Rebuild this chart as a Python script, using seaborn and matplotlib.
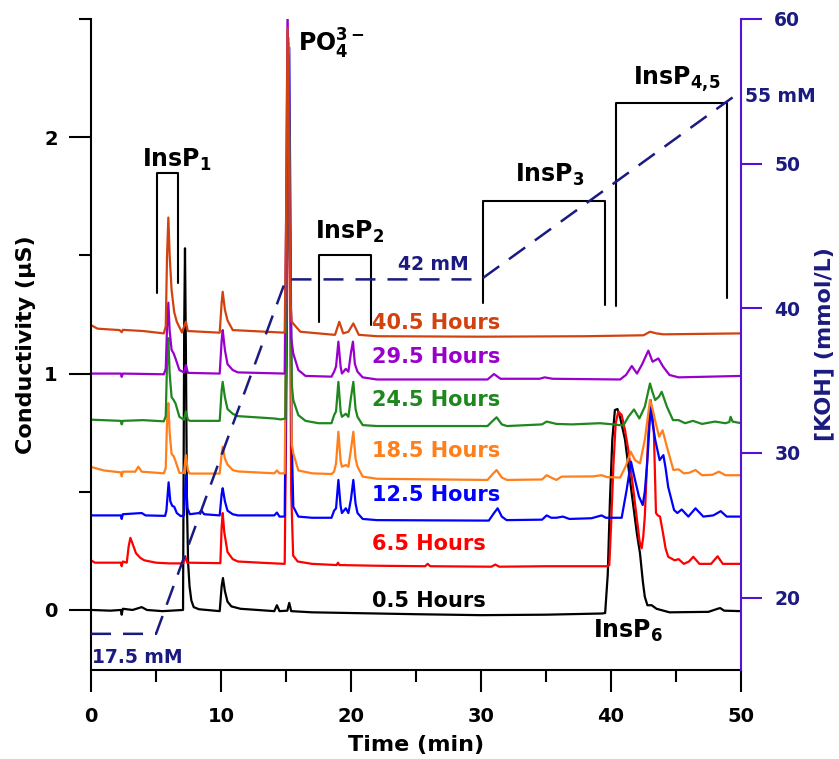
"""
Ion chromatograms of InsP6 hydrolysis over time
(conductivity traces stacked, KOH gradient on the right axis)
"""

import pandas as pd
import matplotlib
matplotlib.use('Agg')
import matplotlib.pyplot as plt
from matplotlib.ticker import FixedLocator
import seaborn as sns

# ---- data (time in min, conductivity in uS) ----
t_05h = [0, 1.5, 2.3, 2.36, 2.45, 3.2, 3.9, 4.3, 5.5, 7.08, 7.17, 7.23, 7.3, 7.38, 7.47,
         7.58, 7.72, 7.9, 8.3, 9.9, 10.05, 10.15, 10.3, 10.5, 10.8, 11.5, 14.1, 14.3, 14.5,
         15.1, 15.25, 15.4, 17, 20, 25, 30, 35, 39.3, 39.55, 39.75, 39.92, 40.1, 40.3, 40.5,
         40.7, 41.08, 41.6, 42.0, 42.23, 42.45, 42.6, 42.8, 43.13, 43.5, 44.5, 47.5, 48.2,
         48.4, 48.7, 50]
c_05h = [0.0, -0.003, 0.0, -0.02, 0.005, 0.0, 0.012, 0.0, -0.005, 0.0, 1.2, 1.53, 1.1, 0.45,
         0.2, 0.1, 0.04, 0.012, 0.003, -0.005, 0.1, 0.135, 0.08, 0.035, 0.015, 0.005, -0.005,
         0.02, -0.005, -0.003, 0.03, -0.005, -0.01, -0.013, -0.018, -0.022, -0.02, -0.015,
         -0.013, 0.15, 0.465, 0.72, 0.846, 0.85, 0.815, 0.72, 0.49, 0.32, 0.24, 0.12, 0.056,
         0.02, 0.02, 0.005, -0.01, -0.008, 0.005, 0.008, -0.003, -0.005]

t_65h = [0, 0.3, 2.3, 2.36, 2.45, 2.75, 2.9, 3.03, 3.2, 3.46, 3.8, 4.1, 5.0, 6.0, 7.1, 7.25,
         7.4, 9.95, 10.05, 10.13, 10.25, 10.5, 10.9, 11.3, 13.0, 14.9, 15.05, 15.2, 15.3, 15.4,
         15.55, 15.9, 17, 18.9, 19.0, 19.1, 22, 25.7, 25.9, 26.1, 30.8, 31.1, 31.4, 35, 39.7,
         39.87, 40.0, 40.18, 40.36, 40.56, 40.82, 41.08, 41.33, 41.65, 41.97, 42.2, 42.36,
         42.48, 42.6, 42.87, 43.05, 43.2, 43.3, 43.46, 43.6, 43.77, 44.0, 44.2, 44.4, 44.9,
         45.2, 45.6, 46.0, 46.33, 46.8, 47.7, 48.2, 48.6, 50]
c_65h = [0.21, 0.2, 0.2, 0.185, 0.205, 0.2, 0.27, 0.305, 0.28, 0.24, 0.22, 0.21, 0.2, 0.197,
         0.197, 0.228, 0.2, 0.198, 0.35, 0.41, 0.33, 0.245, 0.215, 0.205, 0.2, 0.195, 1.0, 2.4,
         1.5, 0.5, 0.23, 0.205, 0.195, 0.19, 0.2, 0.19, 0.187, 0.185, 0.195, 0.185, 0.183,
         0.192, 0.183, 0.185, 0.185, 0.19, 0.35, 0.606, 0.79, 0.839, 0.825, 0.76, 0.677, 0.54,
         0.395, 0.29, 0.261, 0.31, 0.395, 0.747, 0.888, 0.82, 0.747, 0.41, 0.4, 0.395, 0.325,
         0.26, 0.225, 0.21, 0.215, 0.195, 0.205, 0.225, 0.195, 0.195, 0.227, 0.195, 0.195]

t_125h = [0, 2.3, 2.36, 2.45, 3.9, 4.2, 5.7, 5.8, 5.97, 6.1, 6.25, 6.4, 6.6, 6.9, 7.15, 7.3,
          7.42, 7.6, 8.3, 8.5, 8.7, 9.9, 10.05, 10.13, 10.3, 10.5, 10.9, 11.3, 14.1, 14.3,
          14.5, 14.9, 15.05, 15.25, 15.35, 15.45, 15.56, 15.95, 17, 18.5, 18.7, 18.85, 19.03,
          19.2, 19.3, 19.6, 19.8, 20.0, 20.18, 20.35, 20.5, 20.9, 22, 30.6, 31.0, 31.28, 31.6,
          31.97, 34.7, 35.05, 35.4, 35.8, 36.3, 36.8, 38.5, 39.28, 39.6, 40.82, 41.2, 41.54,
          41.85, 42.15, 42.44, 42.6, 42.8, 43.05, 43.2, 43.4, 43.74, 44.03, 44.2, 44.4, 44.85,
          45.1, 45.44, 45.95, 46.5, 47.1, 47.87, 48.44, 48.9, 50]
c_125h = [0.40, 0.40, 0.385, 0.405, 0.41, 0.40, 0.398, 0.42, 0.54, 0.46, 0.44, 0.437, 0.41,
          0.397, 0.4, 0.57, 0.43, 0.405, 0.41, 0.42, 0.405, 0.4, 0.49, 0.515, 0.46, 0.42,
          0.405, 0.4, 0.4, 0.412, 0.395, 0.395, 1.3, 2.38, 1.6, 0.7, 0.437, 0.395, 0.39, 0.39,
          0.42, 0.43, 0.55, 0.44, 0.41, 0.43, 0.41, 0.47, 0.55, 0.45, 0.41, 0.385, 0.38, 0.378,
          0.41, 0.43, 0.395, 0.38, 0.382, 0.40, 0.39, 0.39, 0.395, 0.385, 0.388, 0.40, 0.39,
          0.39, 0.507, 0.627, 0.55, 0.48, 0.444, 0.5, 0.634, 0.86, 0.79, 0.72, 0.634, 0.655,
          0.6, 0.52, 0.423, 0.41, 0.425, 0.395, 0.43, 0.395, 0.40, 0.418, 0.395, 0.395]

t_185h = [0, 1.0, 2.3, 2.36, 2.45, 3.4, 3.64, 3.9, 5.6, 5.75, 5.85, 5.95, 6.05, 6.2, 6.36,
          6.5, 6.8, 7.15, 7.3, 7.45, 7.6, 9.9, 10.05, 10.13, 10.3, 10.5, 10.9, 11.3, 14.1,
          14.3, 14.5, 14.9, 15.0, 15.2, 15.3, 15.45, 15.56, 15.95, 17, 18.5, 18.7, 18.85,
          19.03, 19.2, 19.3, 19.6, 19.8, 20.0, 20.18, 20.35, 20.5, 20.9, 22, 30.5, 30.9, 31.2,
          31.6, 32, 34.7, 35.05, 35.4, 35.8, 36.2, 38.6, 39.28, 39.7, 40.7, 41.15, 41.51,
          41.85, 42.23, 42.6, 43.0, 43.2, 43.4, 43.7, 43.97, 44.3, 44.8, 45.2, 45.6, 46.0,
          46.5, 47.0, 47.8, 48.3, 48.8, 50]
c_185h = [0.605, 0.59, 0.582, 0.565, 0.585, 0.585, 0.606, 0.585, 0.578, 0.6, 0.8, 0.875,
          0.75, 0.66, 0.65, 0.63, 0.58, 0.58, 0.655, 0.59, 0.577, 0.577, 0.66, 0.69, 0.64,
          0.615, 0.592, 0.586, 0.578, 0.59, 0.578, 0.578, 1.2, 2.42, 1.6, 0.7, 0.663, 0.59,
          0.578, 0.575, 0.585, 0.62, 0.754, 0.63, 0.606, 0.613, 0.606, 0.68, 0.754, 0.64,
          0.606, 0.564, 0.555, 0.55, 0.575, 0.592, 0.56, 0.55, 0.552, 0.57, 0.56, 0.55, 0.564,
          0.565, 0.57, 0.562, 0.56, 0.61, 0.67, 0.634, 0.62, 0.72, 0.888, 0.85, 0.80, 0.733,
          0.76, 0.69, 0.592, 0.595, 0.578, 0.58, 0.592, 0.57, 0.572, 0.585, 0.57, 0.57]

t_245h = [0, 2.3, 2.36, 2.45, 4.0, 5.6, 5.75, 5.85, 5.95, 6.05, 6.2, 6.36, 6.5, 6.8, 7.15,
          7.3, 7.45, 7.6, 9.9, 10.05, 10.13, 10.3, 10.5, 10.9, 11.3, 14.1, 14.6, 14.95, 15.05,
          15.2, 15.3, 15.45, 15.56, 15.95, 16.5, 17.5, 18.5, 18.7, 18.85, 19.03, 19.2, 19.3,
          19.6, 19.8, 20.0, 20.18, 20.35, 20.5, 20.9, 22, 30.5, 30.9, 31.2, 31.6, 32, 34.7,
          35.05, 35.8, 37, 39.15, 40.2, 40.95, 41.33, 41.77, 42.18, 42.6, 43.0, 43.2, 43.4,
          43.7, 43.9, 44.3, 44.77, 45.2, 45.7, 46.3, 47.0, 48.0, 48.8, 49.1, 49.2, 49.35, 50]
c_245h = [0.805, 0.80, 0.785, 0.80, 0.803, 0.798, 0.82, 1.05, 1.15, 1.0, 0.9, 0.888, 0.874,
          0.817, 0.805, 0.84, 0.805, 0.80, 0.8, 0.93, 0.965, 0.9, 0.85, 0.83, 0.82, 0.81,
          0.806, 0.81, 1.4, 2.35, 1.5, 0.95, 0.888, 0.824, 0.80, 0.79, 0.79, 0.824, 0.84,
          0.965, 0.84, 0.817, 0.83, 0.817, 0.9, 0.965, 0.85, 0.817, 0.782, 0.778, 0.778, 0.80,
          0.815, 0.785, 0.778, 0.785, 0.797, 0.787, 0.785, 0.79, 0.785, 0.78, 0.817, 0.848,
          0.81, 0.86, 0.958, 0.92, 0.888, 0.903, 0.923, 0.86, 0.803, 0.803, 0.79, 0.80, 0.787,
          0.797, 0.79, 0.795, 0.817, 0.797, 0.79]

t_295h = [0, 2.3, 2.36, 2.45, 5.6, 5.75, 5.85, 5.95, 6.05, 6.2, 6.36, 6.5, 6.8, 7.15, 7.3,
          7.45, 9.9, 10.05, 10.13, 10.3, 10.5, 10.9, 11.3, 14.9, 15.0, 15.12, 15.25, 15.4,
          15.56, 15.95, 16.5, 18.5, 18.7, 18.85, 19.03, 19.2, 19.3, 19.6, 19.8, 20.0, 20.15,
          20.3, 20.5, 20.9, 22, 30.5, 31.0, 31.5, 34.5, 34.9, 35.5, 40.7, 41.15, 41.6, 42.0,
          42.4, 42.87, 43.2, 43.64, 44.0, 44.5, 45.2, 50]
c_295h = [1.0, 1.0, 0.986, 1.0, 0.997, 1.02, 1.2, 1.30, 1.18, 1.1, 1.085, 1.064, 1.015,
          1.005, 1.036, 1.003, 1.0, 1.14, 1.184, 1.1, 1.04, 1.015, 1.005, 1.0, 1.6, 2.55, 1.8,
          1.15, 1.085, 1.015, 0.99, 0.987, 1.008, 1.03, 1.135, 1.03, 1.0, 1.02, 1.008, 1.09,
          1.135, 1.04, 1.008, 0.984, 0.975, 0.975, 0.998, 0.978, 0.978, 0.984, 0.978, 0.975,
          0.994, 1.032, 1.0, 1.04, 1.097, 1.05, 1.064, 1.03, 0.994, 0.984, 0.99]

t_405h = [0, 0.5, 2.2, 2.36, 2.45, 4.0, 5.6, 5.75, 5.85, 5.95, 6.05, 6.2, 6.4, 6.6, 7.0, 7.3,
          7.45, 9.9, 10.05, 10.13, 10.3, 10.5, 10.9, 14.9, 15.0, 15.12, 15.25, 15.35, 15.44,
          16.1, 18.5, 18.77, 19.1, 19.4, 19.8, 20.18, 20.6, 22, 30, 38, 42.5, 43.0, 43.5,
          44.0, 50]
c_405h = [1.205, 1.19, 1.184, 1.175, 1.185, 1.18, 1.17, 1.2, 1.5, 1.66, 1.5, 1.353, 1.26,
          1.219, 1.174, 1.22, 1.18, 1.173, 1.3, 1.346, 1.27, 1.225, 1.184, 1.173, 1.6, 2.46,
          1.8, 1.3, 1.219, 1.177, 1.165, 1.164, 1.219, 1.17, 1.177, 1.212, 1.164, 1.158,
          1.156, 1.158, 1.162, 1.177, 1.17, 1.166, 1.17]

samples = ['0.5 Hours', '6.5 Hours', '12.5 Hours', '18.5 Hours',
           '24.5 Hours', '29.5 Hours', '40.5 Hours']
colors = ['#000000', '#ff0000', '#0000ff', '#ff7f1a', '#1e871e', '#9a00cc', '#d2420f']

# KOH eluent gradient (mM)
grad_t = [0, 5, 15, 30, 50]
grad_koh = [17.5, 17.5, 42, 42, 55]

NAVY = '#1a1a80'
AXIS2 = '#5214d2'

# ---- build long table ----
series = [(t_05h, c_05h), (t_65h, c_65h), (t_125h, c_125h), (t_185h, c_185h),
          (t_245h, c_245h), (t_295h, c_295h), (t_405h, c_405h)]
frames = []
for name, (tt, cc) in zip(samples, series):
    frames.append(pd.DataFrame({'time': tt, 'cond': cc, 'sample': name}))
df = pd.concat(frames, ignore_index=True)
grad = pd.DataFrame({'time': grad_t, 'koh': grad_koh})

# ---- style ----
sns.set_style('ticks')
plt.rcParams['font.family'] = ['DejaVu Sans']
plt.rcParams['font.weight'] = 'bold'
plt.rcParams['axes.labelweight'] = 'bold'
plt.rcParams['mathtext.fontset'] = 'dejavusans'
plt.rcParams['text.color'] = 'black'
plt.rcParams['axes.labelcolor'] = 'black'
plt.rcParams['xtick.color'] = 'black'
plt.rcParams['ytick.color'] = 'black'
plt.rcParams['axes.edgecolor'] = 'black'

fig = plt.figure(figsize=(8.39, 7.59), dpi=100)
ax = fig.add_axes([91 / 839, 1 - 670 / 759, 650 / 839, 651 / 759])

sns.lineplot(data=df, x='time', y='cond', hue='sample', hue_order=samples,
             palette=colors, estimator=None, sort=False, legend=False,
             linewidth=1.6, ax=ax)

ax.set_xlim(0, 50)
ax.set_ylim(-0.254, 2.5)
ax.set_xticks([0, 10, 20, 30, 40, 50])
ax.set_yticks([0, 1, 2])
ax.xaxis.set_minor_locator(FixedLocator([5, 15, 25, 35, 45]))
ax.yaxis.set_minor_locator(FixedLocator([0.5, 1.5, 2.5]))
ax.tick_params(which='major', direction='out', length=16, width=1.5, labelsize=14, pad=8)
ax.tick_params(which='minor', direction='out', length=8.5, width=1.5)
ax.tick_params(axis='x', which='major', pad=11)
for side in ['top', 'right']:
    ax.spines[side].set_visible(False)
for side in ['left', 'bottom']:
    ax.spines[side].set_linewidth(1.5)
ax.set_xlabel('Time (min)', fontsize=16, labelpad=6)
ax.set_ylabel('Conductivity (\u00b5S)', fontsize=16, labelpad=6)

# ---- gradient on right axis ----
ax2 = ax.twinx()
sns.lineplot(data=grad, x='time', y='koh', color=NAVY, linewidth=1.8,
             linestyle=(0, (8, 4.8)), ax=ax2)
ax2.set_ylim(15, 60)
ax2.set_yticks([20, 30, 40, 50, 60])
for side in ['left', 'top', 'bottom']:
    ax2.spines[side].set_visible(False)
ax2.spines['right'].set_color(AXIS2)
ax2.spines['right'].set_linewidth(1.5)
ax2.tick_params(axis='y', direction='out', length=15, width=1.5, color=AXIS2,
                labelcolor=NAVY, labelsize=13.5, pad=9)
ax2.set_ylabel('[KOH] (mmol/L)', fontsize=16, color=NAVY, labelpad=10)

# gradient step labels
ax.text(0.07, -0.224, '17.5 mM', color=NAVY, fontsize=13.5, va='baseline')
ax.text(23.6, 1.438, '42 mM', color=NAVY, fontsize=13.5, va='baseline')
ax.text(50.3, 2.149, '55 mM', color=NAVY, fontsize=13.5, va='baseline', clip_on=False)

# sample labels
label_y = [0.011, 0.254, 0.462, 0.646, 0.863, 1.046, 1.187]
for name, col, yy in zip(samples, colors, label_y):
    ax.text(21.6, yy, name, color=col, fontsize=15, va='baseline')

# peak group brackets
brackets = [
    (5.1, 6.67, 1.34, 1.384, 1.85),
    (17.5, 21.5, 1.219, 1.205, 1.50),
    (30.18, 39.54, 1.30, 1.29, 1.729),
    (40.38, 48.9, 1.285, 1.32, 2.143),
]
for x0, x1, yl, yr, ytop in brackets:
    ax.plot([x0, x0, x1, x1], [yl, ytop, ytop, yr], color='black', lw=1.5)

ax.text(3.9, 1.873, r'$\mathbf{InsP_{1}}$', fontsize=17, va='baseline')
ax.text(17.23, 1.569, r'$\mathbf{InsP_{2}}$', fontsize=17, va='baseline')
ax.text(32.6, 1.811, r'$\mathbf{InsP_{3}}$', fontsize=17, va='baseline')
ax.text(41.7, 2.22, r'$\mathbf{InsP_{4{,}5}}$', fontsize=17, va='baseline')
ax.text(38.6, -0.118, r'$\mathbf{InsP_{6}}$', fontsize=17, va='baseline')
ax.text(15.9, 2.36, r'$\mathbf{PO_{4}^{3-}}$', fontsize=17, va='baseline')

plt.savefig('out.png', dpi=100)
plt.close()
